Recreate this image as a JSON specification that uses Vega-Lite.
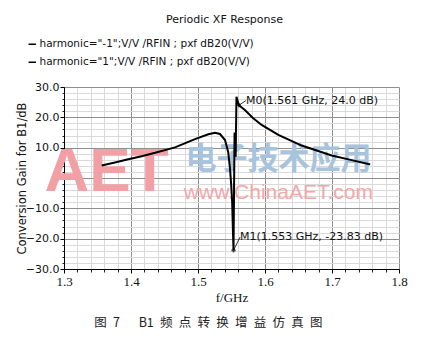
{
  "$schema": "https://vega.github.io/schema/vega-lite/v6.json",
  "width": 335,
  "height": 182,
  "autosize": {"type": "none"},
  "padding": {"left": 64, "top": 87, "right": 22, "bottom": 73},
  "background": "white",
  "title": {"text": "Periodic XF Response", "anchor": "middle", "frame": "group", "dx": -7, "offset": 14, "font": "DejaVu Sans", "fontSize": 11, "fontWeight": "normal", "color": "#111"},
  "config": {"view": {"stroke": null}},
  "datasets": {
    "curve": [
      {"f": 1.3563, "g": 4.1, "series": "harmonic=\"-1\";V/V /RFIN ; pxf dB20(V/V)"},
      {"f": 1.376, "g": 5.1, "series": "harmonic=\"-1\";V/V /RFIN ; pxf dB20(V/V)"},
      {"f": 1.396, "g": 6.2, "series": "harmonic=\"-1\";V/V /RFIN ; pxf dB20(V/V)"},
      {"f": 1.416, "g": 7.2, "series": "harmonic=\"-1\";V/V /RFIN ; pxf dB20(V/V)"},
      {"f": 1.436, "g": 8.3, "series": "harmonic=\"-1\";V/V /RFIN ; pxf dB20(V/V)"},
      {"f": 1.4657, "g": 10.1, "series": "harmonic=\"-1\";V/V /RFIN ; pxf dB20(V/V)"},
      {"f": 1.4955, "g": 12.8, "series": "harmonic=\"-1\";V/V /RFIN ; pxf dB20(V/V)"},
      {"f": 1.5154, "g": 14.4, "series": "harmonic=\"-1\";V/V /RFIN ; pxf dB20(V/V)"},
      {"f": 1.5254, "g": 14.9, "series": "harmonic=\"-1\";V/V /RFIN ; pxf dB20(V/V)"},
      {"f": 1.5328, "g": 14.5, "series": "harmonic=\"-1\";V/V /RFIN ; pxf dB20(V/V)"},
      {"f": 1.5403, "g": 12.5, "series": "harmonic=\"-1\";V/V /RFIN ; pxf dB20(V/V)"},
      {"f": 1.5452, "g": 8.4, "series": "harmonic=\"-1\";V/V /RFIN ; pxf dB20(V/V)"},
      {"f": 1.5478, "g": 3.0, "series": "harmonic=\"-1\";V/V /RFIN ; pxf dB20(V/V)"},
      {"f": 1.5495, "g": -2.0, "series": "harmonic=\"-1\";V/V /RFIN ; pxf dB20(V/V)"},
      {"f": 1.551, "g": -8.0, "series": "harmonic=\"-1\";V/V /RFIN ; pxf dB20(V/V)"},
      {"f": 1.5522, "g": -18.0, "series": "harmonic=\"-1\";V/V /RFIN ; pxf dB20(V/V)"},
      {"f": 1.553, "g": -23.83, "series": "harmonic=\"-1\";V/V /RFIN ; pxf dB20(V/V)"},
      {"f": 1.5537, "g": -6.0, "series": "harmonic=\"-1\";V/V /RFIN ; pxf dB20(V/V)"},
      {"f": 1.5546, "g": 15.0, "series": "harmonic=\"-1\";V/V /RFIN ; pxf dB20(V/V)"},
      {"f": 1.5554, "g": 10.0, "series": "harmonic=\"-1\";V/V /RFIN ; pxf dB20(V/V)"},
      {"f": 1.5562, "g": 7.0, "series": "harmonic=\"-1\";V/V /RFIN ; pxf dB20(V/V)"},
      {"f": 1.5574, "g": 26.8, "series": "harmonic=\"-1\";V/V /RFIN ; pxf dB20(V/V)"},
      {"f": 1.561, "g": 24.0, "series": "harmonic=\"-1\";V/V /RFIN ; pxf dB20(V/V)"},
      {"f": 1.57, "g": 22.4, "series": "harmonic=\"-1\";V/V /RFIN ; pxf dB20(V/V)"},
      {"f": 1.582, "g": 19.8, "series": "harmonic=\"-1\";V/V /RFIN ; pxf dB20(V/V)"},
      {"f": 1.595, "g": 17.5, "series": "harmonic=\"-1\";V/V /RFIN ; pxf dB20(V/V)"},
      {"f": 1.6199, "g": 14.2, "series": "harmonic=\"-1\";V/V /RFIN ; pxf dB20(V/V)"},
      {"f": 1.6548, "g": 10.7, "series": "harmonic=\"-1\";V/V /RFIN ; pxf dB20(V/V)"},
      {"f": 1.6995, "g": 7.4, "series": "harmonic=\"-1\";V/V /RFIN ; pxf dB20(V/V)"},
      {"f": 1.7294, "g": 5.9, "series": "harmonic=\"-1\";V/V /RFIN ; pxf dB20(V/V)"},
      {"f": 1.7542, "g": 4.6, "series": "harmonic=\"-1\";V/V /RFIN ; pxf dB20(V/V)"},
      {"f": 1.757, "g": 4.5, "series": "harmonic=\"-1\";V/V /RFIN ; pxf dB20(V/V)"}
    ],
    "markers": [
      {"name": "M0", "label": "M0(1.561 GHz, 24.0 dB)", "f": 1.561, "g": 24.0, "f2": 1.5715, "g2": 25.5},
      {"name": "M1", "label": "M1(1.553 GHz, -23.83 dB)", "f": 1.553, "g": -23.83, "f2": 1.5627, "g2": -19.5}
    ]
  },
  "resolve": {"axis": {"x": "independent", "y": "independent"}},
  "layer": [
    {
      "data": {"values": [{"t": "AET"}]},
      "mark": {"type": "text", "font": "Liberation Sans", "fontWeight": "bold", "fontSize": 62, "color": "#f2a0a6", "align": "center", "baseline": "middle"},
      "encoding": {
        "x": {"datum": 1.3635, "type": "quantitative", "scale": {"domain": [1.3, 1.8], "nice": false, "zero": false},
          "axis": {"orient": "bottom", "values": [1.3,1.32,1.34,1.36,1.38,1.4,1.42,1.44,1.46,1.48,1.5,1.52,1.54,1.56,1.58,1.6,1.62,1.64,1.66,1.68,1.7,1.72,1.74,1.76,1.78,1.8], "labels": false, "domain": false, "ticks": true, "tickSize": 3, "tickColor": "#222", "grid": true, "gridColor": "#dadada", "gridWidth": 1, "title": null}},
        "y": {"datum": 2, "type": "quantitative", "scale": {"domain": [-30, 30], "nice": false, "zero": false},
          "axis": {"orient": "left", "values": [-30,-28,-26,-24,-22,-20,-18,-16,-14,-12,-10,-8,-6,-4,-2,0,2,4,6,8,10,12,14,16,18,20,22,24,26,28,30], "labels": false, "domain": false, "ticks": true, "tickSize": 2, "tickColor": "#222", "grid": true, "gridColor": "#dadada", "gridWidth": 1, "title": null}},
        "text": {"field": "t"}
      }
    },
    {
      "data": {"values": [{"t": "电子技术应用"}]},
      "mark": {"type": "text", "font": "Noto Sans CJK SC", "fontWeight": "bold", "fontSize": 31, "color": "#a8c3dc", "align": "center", "baseline": "middle"},
      "encoding": {
        "x": {"datum": 1.62, "type": "quantitative", "axis": null},
        "y": {"datum": 5.8, "type": "quantitative", "axis": null},
        "text": {"field": "t"}
      }
    },
    {
      "data": {"values": [{"t": "www.ChinaAET.com"}]},
      "mark": {"type": "text", "font": "Liberation Sans", "fontSize": 21, "color": "#f3a7aa", "align": "center", "baseline": "middle"},
      "encoding": {
        "x": {"datum": 1.62, "type": "quantitative", "axis": null},
        "y": {"datum": -4.9, "type": "quantitative", "axis": null},
        "text": {"field": "t"}
      }
    },
    {
      "data": {"name": "curve"},
      "mark": {"type": "line", "strokeWidth": 2, "interpolate": "linear"},
      "encoding": {
        "x": {"field": "f", "type": "quantitative",
          "axis": {"orient": "bottom", "values": [1.3, 1.4, 1.5, 1.6, 1.7, 1.8], "format": ".1f", "labelFont": "Liberation Serif", "labelFontSize": 13, "labelColor": "#111", "labelPadding": 2, "domainColor": "#000", "domainWidth": 1, "tickColor": "#000", "tickSize": 4, "grid": true, "gridColor": "#8f8f8f", "gridWidth": 1, "title": "f/GHz", "titleFont": "Liberation Serif", "titleFontSize": 13, "titleFontWeight": "normal", "titleColor": "#111", "titlePadding": 3, "labelFlush": false}},
        "y": {"field": "g", "type": "quantitative",
          "axis": {"orient": "left", "values": [-30, -20, -10, 0, 10, 20, 30], "labelExpr": "datum.value == 0 ? '0' : format(datum.value, '.1f')", "labelFont": "DejaVu Sans", "labelFontSize": 11, "labelColor": "#111", "labelPadding": 1, "domainColor": "#000", "domainWidth": 1, "tickColor": "#000", "tickSize": 4, "grid": true, "gridColor": "#8f8f8f", "gridWidth": 1, "title": "Conversion Gain for B1/dB", "titleFont": "DejaVu Sans", "titleFontSize": 11.5, "titleFontWeight": "normal", "titleColor": "#111", "titleX": -42, "titleY": 91, "titleAngle": 270, "titleAlign": "center", "titleBaseline": "middle", "labelFlush": false}},
        "color": {"field": "series", "type": "nominal",
          "scale": {"domain": ["harmonic=\"-1\";V/V /RFIN ; pxf dB20(V/V)", "harmonic=\"1\";V/V /RFIN ; pxf dB20(V/V)"], "range": ["#000000", "#000000"]},
          "legend": {"orient": "none", "legendX": -37, "legendY": -48, "title": null, "symbolType": "stroke", "symbolSize": 55, "symbolStrokeWidth": 1.5, "labelFont": "DejaVu Sans", "labelFontSize": 10.5, "labelColor": "#111", "labelLimit": 400, "rowPadding": 7, "labelOffset": 2}}
      }
    },
    {
      "data": {"name": "markers"},
      "mark": {"type": "rule", "color": "#000", "strokeWidth": 0.8},
      "encoding": {
        "x": {"field": "f", "type": "quantitative", "axis": null},
        "y": {"field": "g", "type": "quantitative", "axis": null},
        "x2": {"field": "f2"},
        "y2": {"field": "g2"}
      }
    },
    {
      "data": {"name": "markers"},
      "mark": {"type": "point", "shape": "cross", "size": 18, "color": "#000", "filled": true},
      "encoding": {
        "x": {"field": "f", "type": "quantitative", "axis": null},
        "y": {"field": "g", "type": "quantitative", "axis": null}
      }
    },
    {
      "data": {"name": "markers"},
      "mark": {"type": "text", "align": "left", "baseline": "middle", "font": "DejaVu Sans", "fontSize": 11, "color": "#111"},
      "encoding": {
        "x": {"field": "f2", "type": "quantitative", "axis": null},
        "y": {"field": "g2", "type": "quantitative", "axis": null},
        "text": {"field": "label"}
      }
    },
    {
      "data": {"values": [{"t": "图\u20027\u2002\u2002\u2002B1\u2002频\u2002点\u2002转\u2002换\u2002增\u2002益\u2002仿\u2002真\u2002图"}]},
      "mark": {"type": "text", "font": "Noto Sans CJK SC", "fontSize": 12.5, "color": "#222", "align": "center", "baseline": "middle", "dy": 54},
      "encoding": {
        "x": {"datum": 1.5155, "type": "quantitative", "axis": null},
        "y": {"datum": -30, "type": "quantitative", "axis": null},
        "text": {"field": "t"}
      }
    }
  ]
}
